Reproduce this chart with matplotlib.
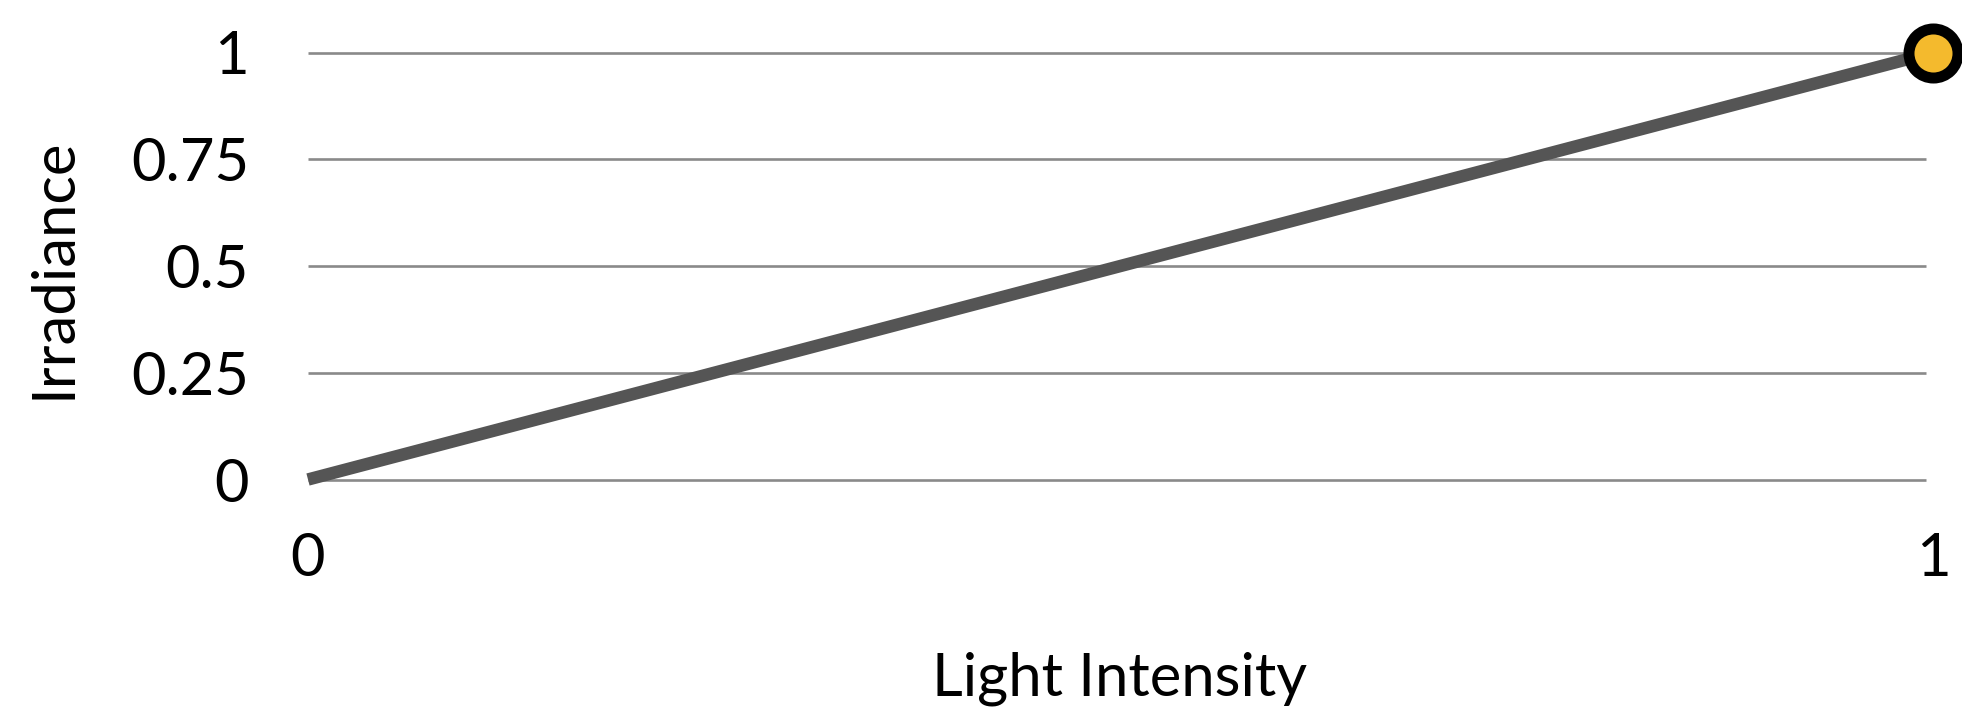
import matplotlib
matplotlib.use("Agg")
import matplotlib.pyplot as plt

plt.rcParams['font.family'] = ['Lato', 'DejaVu Sans']

# Data
light_intensity = [0, 1]
irradiance = [0, 1]
x_ticks = [0, 1]
x_tick_labels = ["0", "1"]
y_ticks = [0, 0.25, 0.5, 0.75, 1]
y_tick_labels = ["0", "0.25", "0.5", "0.75", "1"]
x_label = "Light Intensity"
y_label = "Irradiance"

W, H, DPI = 1962, 710, 100
fig = plt.figure(figsize=(W / DPI, H / DPI), dpi=DPI)
fig.patch.set_facecolor("white")

ax = fig.add_axes([308 / W, (H - 479.5) / H, (1933 - 308) / W, (479.5 - 52.5) / H])
ax.set_xlim(0, 1)
ax.set_ylim(0, 1)
ax.set_facecolor("none")

# horizontal guide lines
grid_x0, grid_x1 = 0.0, 0.9957
for y in y_ticks:
    ax.plot([grid_x0, grid_x1], [y, y], color="#8a8a8a", lw=1.9,
            solid_capstyle="butt", zorder=1, clip_on=False)

# series line and end marker
ax.plot(light_intensity, irradiance, color="#555555", lw=9,
        solid_capstyle="butt", zorder=3, clip_on=False)
ax.plot(light_intensity[-1:], irradiance[-1:], marker="o", ms=35.3,
        mfc="#F4BA2D", mec="black", mew=7.9, zorder=4, clip_on=False,
        linestyle="none")

for s in ax.spines.values():
    s.set_visible(False)

fs = 43
ax.set_xticks(x_ticks)
ax.set_xticklabels(x_tick_labels, fontsize=fs)
ax.set_yticks(y_ticks)
ax.set_yticklabels(y_tick_labels, fontsize=fs)
ax.tick_params(axis="both", length=0, colors="black")
ax.tick_params(axis="y", pad=42.5)
ax.tick_params(axis="x", pad=38)

fig.text(1119 / W, 1 - 695 / H, x_label, fontsize=fs, ha="center",
         va="baseline", color="black")
fig.text(54 / W, 1 - 268 / H, y_label, fontsize=fs, ha="center",
         va="center", rotation=90, color="black")

fig.savefig("out.png", dpi=DPI, facecolor="white")
